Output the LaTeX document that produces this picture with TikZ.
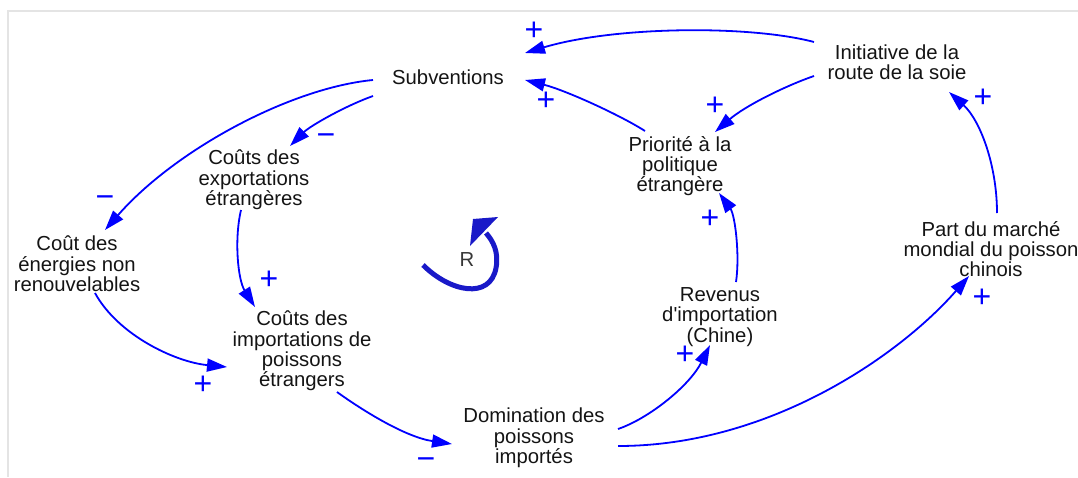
\documentclass[tikz,border=0pt]{standalone}
\usepackage{fontspec}
\setmainfont{Liberation Sans}
\usetikzlibrary{arrows.meta}
\definecolor{arr}{RGB}{0,0,255}
\definecolor{loopc}{RGB}{25,25,200}
\definecolor{txt}{RGB}{20,20,20}
\definecolor{framec}{RGB}{228,228,228}
\begin{document}
\begin{tikzpicture}[x=1pt,y=-1pt,
  var/.style={align=center, inner sep=0pt, font=\fontsize{20.3}{20.3}\selectfont, text=txt},
  link/.style={draw=arr, line width=1.8pt, -{Triangle[length=20pt,width=13pt]}},
  pol/.style={text=arr, inner sep=0pt, font=\fontsize{32}{32}\selectfont}]
\useasboundingbox (0,0) rectangle (1078,477);
\draw[framec, line width=2pt] (7.5,477) -- (7.5,10.5) -- (1078,10.5);

\node[var] (sub)  at (448,77)  {Subventions};
\node[var] (ini)  at (897,62)  {Initiative de la\\route de la soie};
\node[var] (pri)  at (680,166) {Priorité à la\\politique\\étrangère};
\node[var] (exp)  at (254,180) {Coûts des\\exportations\\étrangères};
\node[var] (ene)  at (77,264)  {Coût des\\énergies non\\renouvelables};
\node[var] (imp)  at (302,351) {Coûts des\\importations de\\poissons\\étrangers};
\node[var] (dom)  at (534,438) {Domination des\\poissons\\importés};
\node[var] (rev)  at (720,317) {Revenus\\d\textquotesingle importation\\(Chine)};
\node[var] (part) at (991,249) {Part du marché\\mondial du poisson\\chinois};

% connectors
\draw[link] ([shift={(-83,-20)}]ini.center) .. controls (750,25) and (615,26) .. ([shift={(77,-24)}]sub.center);
\draw[link] ([shift={(-35,-35)}]pri.center) .. controls (620,115) and (565,90) .. ([shift={(77,3)}]sub.center);
\draw[link] ([shift={(-83,14)}]ini.center) .. controls (785,86) and (745,106) .. ([shift={(35,-34)}]pri.center);
\draw[link] ([shift={(6,-36)}]part.center) .. controls (997,165) and (980,120) .. ([shift={(52,30)}]ini.center);
\draw[link] ([shift={(16,-35)}]rev.center) .. controls (740,255) and (735,215) .. ([shift={(39,27)}]pri.center);
\draw[link] ([shift={(84,-9)}]dom.center) .. controls (650,418) and (690,385) .. ([shift={(-10,28)}]rev.center);
\draw[link] ([shift={(84,8)}]dom.center) .. controls (770,446) and (900,355) .. ([shift={(-22,27)}]part.center);
\draw[link] ([shift={(-75,19)}]sub.center) .. controls (345,106) and (310,126) .. ([shift={(36,-34)}]exp.center);
\draw[link] ([shift={(-75,3)}]sub.center) .. controls (290,88) and (175,150) .. ([shift={(28,-34)}]ene.center);
\draw[link] ([shift={(-13,30)}]exp.center) .. controls (234,240) and (238,280) .. ([shift={(-47,-44)}]imp.center);
\draw[link] ([shift={(18,29)}]ene.center) .. controls (118,335) and (175,362) .. ([shift={(-75,16)}]imp.center);
\draw[link] ([shift={(35,41)}]imp.center) .. controls (362,410) and (405,437) .. ([shift={(-82,6)}]dom.center);

% polarities
\node[pol] (p1)  at (534,31)  {+};
\node[pol] (p2)  at (546,101) {+};
\node[pol] (p3)  at (715,106) {+};
\node[pol] (p4)  at (983,98)  {+};
\node[pol] (p5)  at (710,219) {+};
\node[pol] (p6)  at (685,355) {+};
\node[pol] (p7)  at (982,298) {+};
\node[pol] (p8)  at (326,140) {−};
\node[pol] (p9)  at (105,202) {−};
\node[pol] (p10) at (269,280) {+};
\node[pol] (p11) at (203,385) {+};
\node[pol] (p12) at (426,464) {−};

% loop symbol
\node[var, text=txt!85] (R) at (467,260) {R};
\draw[loopc, line width=5pt] (423,265) .. controls (450,292) and (490,300) .. (496,268)
   .. controls (499,252) and (493,241) .. (486,233);
\fill[loopc] (470,246) -- (473,219) -- (498,217) -- cycle;
\end{tikzpicture}
\end{document}
